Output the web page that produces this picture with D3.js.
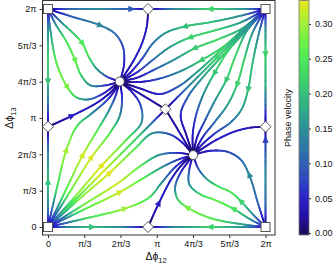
<!DOCTYPE html>
<html>
<head>
<meta charset="utf-8">
<script src="https://cdn.jsdelivr.net/npm/d3@7"></script>
<style>
  body { margin: 0; background: #fff; }
  text { font-family: "Liberation Sans", Arial, sans-serif; fill: #111; }
</style>
</head>
<body>
<svg id="chart" width="334" height="272"></svg>
<script>
// all coordinates are in units of pi: [dphi12, dphi13, phase velocity]
const unstableNodes = [[0, 0], [2, 0], [0, 2], [2, 2]];
const stableNodes = [[0.66, 1.335], [1.335, 0.66]];
const saddles = [[0.92, 2], [0.92, 0], [0, 0.92], [2, 0.92], [1.08, 1.08]];

const tickValues = [0, 1 / 3, 2 / 3, 1, 4 / 3, 5 / 3, 2];
const tickLabels = ['0', 'π/3', '2π/3', 'π', '4π/3', '5π/3', '2π'];
const cbarTicks = [0, 0.05, 0.10, 0.15, 0.20, 0.25, 0.30];

// borders of the square (separatrices)
const edgeLines = [
  [[0, 2, 0], [0.2, 2, 0.1], [0.46, 2, 0.15], [0.77, 2, 0.09], [0.92, 2, 0]],
  [[2, 2, 0], [1.8, 2, 0.15], [1.49, 2, 0.22], [1.15, 2, 0.14], [0.92, 2, 0]],
  [[0, 2, 0], [0, 1.8, 0.15], [0, 1.52, 0.22], [0, 1.33, 0.2], [0, 1.1, 0.1], [0, 0.92, 0]],
  [[0, 0, 0], [0, 0.2, 0.14], [0, 0.42, 0.2], [0, 0.7, 0.13], [0, 0.92, 0]],
  [[0, 0, 0], [0.2, 0, 0.14], [0.41, 0, 0.2], [0.7, 0, 0.13], [0.92, 0, 0]],
  [[2, 0, 0], [1.8, 0, 0.15], [1.49, 0, 0.22], [1.15, 0, 0.14], [0.92, 0, 0]],
  [[2, 2, 0], [2, 1.8, 0.15], [2, 1.58, 0.22], [2, 1.3, 0.18], [2, 1.1, 0.1], [2, 0.92, 0]],
  [[2, 0, 0], [2, 0.2, 0.1], [2, 0.46, 0.15], [2, 0.8, 0.07], [2, 0.92, 0]]
];
const edgeArrows = [3, 2, 3, 2, 2, 2, 2, 3];

// lines leaving the saddles + the diagonal
const saddleLines = [
  [[0, 0.92, 0], [0.22, 1.02, 0.045], [0.45, 1.14, 0.045], [0.58, 1.24, 0.025], [0.66, 1.335, 0]],
  [[0.92, 0, 0], [1.02, 0.22, 0.045], [1.14, 0.45, 0.045], [1.24, 0.58, 0.025], [1.335, 0.66, 0]],
  [[0.92, 2, 0], [0.91, 1.85, 0.04], [0.87, 1.7, 0.05], [0.8, 1.55, 0.045], [0.72, 1.42, 0.03], [0.66, 1.335, 0]],
  [[2, 0.92, 0], [1.85, 0.91, 0.04], [1.7, 0.87, 0.05], [1.55, 0.8, 0.045], [1.42, 0.72, 0.03], [1.335, 0.66, 0]],
  [[1.08, 1.08, 0], [0.95, 1.16, 0.03], [0.8, 1.25, 0.03], [0.66, 1.335, 0]],
  [[1.08, 1.08, 0], [1.16, 0.95, 0.03], [1.25, 0.8, 0.03], [1.335, 0.66, 0]],
  [[2, 2, 0], [1.85, 1.85, 0.15], [1.55, 1.55, 0.22], [1.3, 1.3, 0.14], [1.08, 1.08, 0]],
  [[0, 0, 0], [0.15, 0.15, 0.22], [0.5, 0.5, 0.33], [0.85, 0.85, 0.21], [1.08, 1.08, 0]]
];
const saddleArrows = [1, 1, -1, -1, -1, -1, 2, -1];

// fan from the top-left corner into the upper node
const flowsA = [
  [[0, 2, 0], [0.22, 1.93, 0.1], [0.48, 1.85, 0.14], [0.62, 1.77, 0.11], [0.69, 1.65, 0.08], [0.7, 1.5, 0.05], [0.68, 1.4, 0.03], [0.66, 1.335, 0]],
  [[0, 2, 0], [0.12, 1.88, 0.15], [0.24, 1.77, 0.22], [0.32, 1.68, 0.25], [0.37, 1.57, 0.24], [0.44, 1.46, 0.17], [0.54, 1.38, 0.09], [0.66, 1.335, 0]],
  [[0, 2, 0], [0.07, 1.86, 0.15], [0.17, 1.7, 0.24], [0.25, 1.53, 0.27], [0.3, 1.4, 0.23], [0.39, 1.3, 0.15], [0.53, 1.3, 0.07], [0.66, 1.335, 0]],
  [[0, 2, 0], [0.02, 1.82, 0.15], [0.08, 1.5, 0.26], [0.18, 1.28, 0.28], [0.26, 1.19, 0.22], [0.37, 1.17, 0.13], [0.5, 1.22, 0.06], [0.6, 1.29, 0.03], [0.66, 1.335, 0]]
];
const arrowsA = [2, 3, 3, 3];

// fan from the bottom-right corner into the lower node
const flowsD = [
  [[2, 0, 0], [1.93, 0.22, 0.1], [1.85, 0.48, 0.14], [1.77, 0.62, 0.11], [1.65, 0.69, 0.08], [1.5, 0.7, 0.05], [1.4, 0.68, 0.03], [1.335, 0.66, 0]],
  [[2, 0, 0], [1.88, 0.12, 0.15], [1.77, 0.24, 0.22], [1.68, 0.32, 0.25], [1.57, 0.37, 0.24], [1.46, 0.44, 0.17], [1.38, 0.54, 0.09], [1.335, 0.66, 0]],
  [[2, 0, 0], [1.86, 0.07, 0.15], [1.7, 0.17, 0.24], [1.53, 0.25, 0.27], [1.4, 0.3, 0.23], [1.3, 0.39, 0.15], [1.3, 0.53, 0.07], [1.335, 0.66, 0]],
  [[2, 0, 0], [1.82, 0.02, 0.15], [1.5, 0.08, 0.26], [1.28, 0.18, 0.28], [1.19, 0.26, 0.22], [1.17, 0.37, 0.13], [1.22, 0.5, 0.06], [1.29, 0.6, 0.03], [1.335, 0.66, 0]]
];
const arrowsD = [2, 2, 2, 3];

// fan from the top-right corner, above and below the diagonal
const flowsBP = [
  [[2, 2, 0], [1.78, 1.94, 0.14], [1.5, 1.88, 0.2], [1.26, 1.84, 0.2], [1.08, 1.78, 0.16], [0.96, 1.68, 0.12], [0.87, 1.55, 0.08], [0.76, 1.42, 0.04], [0.66, 1.335, 0]],
  [[2, 2, 0], [1.78, 1.88, 0.16], [1.52, 1.8, 0.22], [1.31, 1.74, 0.22], [1.12, 1.65, 0.17], [0.96, 1.53, 0.11], [0.82, 1.42, 0.06], [0.66, 1.335, 0]],
  [[2, 2, 0], [1.8, 1.83, 0.17], [1.56, 1.72, 0.23], [1.35, 1.64, 0.21], [1.15, 1.53, 0.15], [0.97, 1.44, 0.09], [0.82, 1.37, 0.04], [0.66, 1.335, 0]],
  [[2, 2, 0], [1.82, 1.84, 0.16], [1.62, 1.66, 0.23], [1.41, 1.53, 0.21], [1.22, 1.43, 0.15], [1.02, 1.36, 0.08], [0.84, 1.33, 0.04], [0.66, 1.335, 0]],
  [[2, 2, 0], [1.85, 1.855, 0.15], [1.6, 1.63, 0.22], [1.38, 1.43, 0.17], [1.2, 1.29, 0.1], [1.03, 1.22, 0.05], [0.85, 1.27, 0.03], [0.66, 1.335, 0]]
];
const arrowsBP = [3, 3, 3, 3, -1];

const flowsBQ = [
  [[2, 2, 0], [1.94, 1.78, 0.14], [1.88, 1.5, 0.2], [1.84, 1.26, 0.2], [1.78, 1.08, 0.16], [1.68, 0.96, 0.12], [1.55, 0.87, 0.08], [1.42, 0.76, 0.04], [1.335, 0.66, 0]],
  [[2, 2, 0], [1.88, 1.78, 0.16], [1.8, 1.52, 0.22], [1.74, 1.31, 0.22], [1.65, 1.12, 0.17], [1.53, 0.96, 0.11], [1.42, 0.82, 0.06], [1.335, 0.66, 0]],
  [[2, 2, 0], [1.83, 1.8, 0.17], [1.72, 1.56, 0.23], [1.64, 1.35, 0.21], [1.53, 1.15, 0.15], [1.44, 0.97, 0.09], [1.37, 0.82, 0.04], [1.335, 0.66, 0]],
  [[2, 2, 0], [1.84, 1.82, 0.16], [1.66, 1.62, 0.23], [1.53, 1.41, 0.21], [1.43, 1.22, 0.15], [1.36, 1.02, 0.08], [1.33, 0.84, 0.04], [1.335, 0.66, 0]],
  [[2, 2, 0], [1.855, 1.85, 0.15], [1.63, 1.6, 0.22], [1.43, 1.38, 0.17], [1.29, 1.2, 0.1], [1.22, 1.03, 0.05], [1.27, 0.85, 0.03], [1.335, 0.66, 0]]
];
const arrowsBQ = [3, 3, 3, 3, -1];

// fan from the bottom-left corner
const flowsCP = [
  [[0, 0, 0], [0.08, 0.35, 0.23], [0.17, 0.71, 0.3], [0.27, 0.93, 0.25], [0.4, 1.04, 0.15], [0.54, 1.16, 0.07], [0.62, 1.26, 0.03], [0.66, 1.335, 0]],
  [[0, 0, 0], [0.15, 0.31, 0.25], [0.32, 0.66, 0.32], [0.45, 0.88, 0.26], [0.55, 1.05, 0.16], [0.62, 1.2, 0.07], [0.66, 1.335, 0]],
  [[0, 0, 0], [0.2, 0.32, 0.27], [0.4, 0.64, 0.325], [0.56, 0.85, 0.26], [0.66, 1.02, 0.15], [0.68, 1.19, 0.06], [0.66, 1.335, 0]],
  [[0, 0, 0], [0.25, 0.28, 0.28], [0.5, 0.57, 0.33], [0.72, 0.8, 0.26], [0.86, 0.96, 0.15], [0.85, 1.12, 0.08], [0.77, 1.24, 0.04], [0.66, 1.335, 0]]
];
const arrowsCP = [2, 2, 2, 2];

const flowsCQ = [
  [[0, 0, 0], [0.35, 0.08, 0.23], [0.71, 0.17, 0.3], [0.93, 0.27, 0.25], [1.04, 0.4, 0.15], [1.16, 0.54, 0.07], [1.26, 0.62, 0.03], [1.335, 0.66, 0]],
  [[0, 0, 0], [0.31, 0.15, 0.25], [0.66, 0.32, 0.32], [0.88, 0.45, 0.26], [1.05, 0.55, 0.16], [1.2, 0.62, 0.07], [1.335, 0.66, 0]],
  [[0, 0, 0], [0.32, 0.2, 0.27], [0.64, 0.4, 0.325], [0.85, 0.56, 0.26], [1.02, 0.66, 0.15], [1.19, 0.68, 0.06], [1.335, 0.66, 0]],
  [[0, 0, 0], [0.28, 0.25, 0.28], [0.57, 0.5, 0.33], [0.8, 0.72, 0.26], [0.96, 0.86, 0.15], [1.12, 0.85, 0.08], [1.24, 0.77, 0.04], [1.335, 0.66, 0]]
];
const arrowsCQ = [2, 2, -1, 2];

// colour map
const cmap = [
  [0.000, '#1b0b5a'], [0.025, '#2410a8'], [0.050, '#2c22c8'], [0.075, '#2f45c0'],
  [0.100, '#2f62b4'], [0.125, '#2e7aa6'], [0.150, '#2c9198'], [0.175, '#2fa98a'],
  [0.200, '#36c07a'], [0.225, '#40d668'], [0.250, '#4de958'], [0.275, '#6ef046'],
  [0.300, '#a0f03a'], [0.335, '#ede61c']
];

const svg = d3.select('#chart');
const x = d3.scaleLinear().domain([0, 2]).range([48, 265.5]);
const y = d3.scaleLinear().domain([0, 2]).range([227, 9]);
const frame = { left: 42.5, right: 275, top: 0.5, bottom: 235 };

const color = d3.scaleLinear()
  .domain(cmap.map(d => d[0]))
  .range(cmap.map(d => d[1]))
  .clamp(true);

const plot = svg.append('g');
const scratch = svg.append('path').attr('fill', 'none').attr('stroke', 'none');
const lineGen = d3.line()
  .x(d => x(d[0]))
  .y(d => y(d[1]))
  .curve(d3.curveCatmullRom.alpha(0.5));

function drawStream(pts, arrowIdx) {
  scratch.attr('d', lineGen(pts));
  const node = scratch.node();
  const total = node.getTotalLength();
  const n = Math.max(2, Math.ceil(total / 1.2));
  const samples = d3.range(n + 1).map(i => node.getPointAtLength(total * i / n));

  // where each control point sits along the curve
  const ctrl = [];
  let start = 0;
  pts.forEach((p, k) => {
    const px = x(p[0]), py = y(p[1]);
    let best = start, bd = Infinity;
    for (let i = start; i <= n; i++) {
      const d = (samples[i].x - px) ** 2 + (samples[i].y - py) ** 2;
      if (d < bd) { bd = d; best = i; }
    }
    if (k > 0 && best <= ctrl[k - 1]) best = ctrl[k - 1] + 1;
    ctrl.push(best);
    start = best;
  });
  ctrl[0] = 0;
  ctrl[ctrl.length - 1] = Math.max(n, ctrl[ctrl.length - 2] + 1);
  const vAt = d3.scaleLinear().domain(ctrl).range(pts.map(p => p[2])).clamp(true);

  for (let i = 0; i < n; i++) {
    plot.append('line')
      .attr('x1', samples[i].x).attr('y1', samples[i].y)
      .attr('x2', samples[i + 1].x).attr('y2', samples[i + 1].y)
      .attr('stroke', color(vAt(i + 0.5)))
      .attr('stroke-width', 1.8)
      .attr('stroke-linecap', 'round');
  }

  if (arrowIdx >= 0) {
    const j = Math.min(ctrl[arrowIdx], n);
    const a = samples[Math.max(0, j - 2)], b = samples[Math.min(n, j + 2)];
    const ang = Math.atan2(b.y - a.y, b.x - a.x) * 180 / Math.PI;
    plot.append('path')
      .attr('d', 'M4,0L-3,-3.2L-3,3.2Z')
      .attr('transform', `translate(${samples[j].x},${samples[j].y}) rotate(${ang})`)
      .attr('fill', color(vAt(j)));
  }
}

[[edgeLines, edgeArrows], [flowsA, arrowsA], [flowsD, arrowsD],
 [flowsBP, arrowsBP], [flowsBQ, arrowsBQ], [flowsCP, arrowsCP], [flowsCQ, arrowsCQ],
 [saddleLines, saddleArrows]]
  .forEach(([lines, arrows]) => lines.forEach((l, i) => drawStream(l, arrows[i])));
scratch.remove();

// frame and axes
svg.append('rect')
  .attr('x', frame.left).attr('y', frame.top)
  .attr('width', frame.right - frame.left).attr('height', frame.bottom - frame.top)
  .attr('fill', 'none').attr('stroke', '#333').attr('stroke-width', 1);

const xAxis = svg.append('g')
  .attr('transform', `translate(0,${frame.bottom})`)
  .call(d3.axisBottom(x).tickValues(tickValues).tickFormat((d, i) => tickLabels[i]).tickSize(3).tickPadding(3));
const yAxis = svg.append('g')
  .attr('transform', `translate(${frame.left},0)`)
  .call(d3.axisLeft(y).tickValues(tickValues).tickFormat((d, i) => tickLabels[i]).tickSize(3).tickPadding(3));
[xAxis, yAxis].forEach(a => {
  a.select('.domain').remove();
  a.selectAll('line').attr('stroke', '#333');
  a.selectAll('text').attr('font-size', 9).attr('fill', '#111')
    .attr('font-family', '"Liberation Sans", Arial, sans-serif');
});

const xTitle = svg.append('text')
  .attr('x', 156).attr('y', 260)
  .attr('text-anchor', 'middle').attr('font-size', 10.5);
xTitle.append('tspan').text('Δϕ');
xTitle.append('tspan').attr('dy', 2.5).attr('font-size', 7.5).text('12');

const yTitle = svg.append('text')
  .attr('transform', 'translate(13,118) rotate(-90)')
  .attr('text-anchor', 'middle').attr('font-size', 10.5);
yTitle.append('tspan').text('Δϕ');
yTitle.append('tspan').attr('dy', 2.5).attr('font-size', 7.5).text('13');

// fixed points
const marks = svg.append('g').attr('fill', '#fff').attr('stroke', '#555').attr('stroke-width', 1);
marks.selectAll('rect').data(unstableNodes).join('rect')
  .attr('x', d => x(d[0]) - 4.5).attr('y', d => y(d[1]) - 4.5)
  .attr('width', 9).attr('height', 9);
marks.selectAll('circle').data(stableNodes).join('circle')
  .attr('cx', d => x(d[0])).attr('cy', d => y(d[1])).attr('r', 4.5);
marks.selectAll('path').data(saddles).join('path')
  .attr('d', 'M0,-5.5L5.5,0L0,5.5L-5.5,0Z')
  .attr('transform', d => `translate(${x(d[0])},${y(d[1])})`);

// colour bar
const cb = d3.scaleLinear().domain([0, 0.3]).range([233, 24]);
const cbBox = { left: 299, width: 10, top: 0.5, bottom: 235 };
const grad = svg.append('defs').append('linearGradient')
  .attr('id', 'cbGrad').attr('x1', 0).attr('y1', 1).attr('x2', 0).attr('y2', 0);
const vLow = cb.invert(cbBox.bottom), vHigh = cb.invert(cbBox.top);
d3.range(0, 41).forEach(i => {
  const v = vLow + (vHigh - vLow) * i / 40;
  grad.append('stop').attr('offset', i / 40).attr('stop-color', color(v));
});
svg.append('rect')
  .attr('x', cbBox.left).attr('y', cbBox.top)
  .attr('width', cbBox.width).attr('height', cbBox.bottom - cbBox.top)
  .attr('fill', 'url(#cbGrad)').attr('stroke', '#777').attr('stroke-width', 0.8);
const cbAxis = svg.append('g')
  .attr('transform', `translate(${cbBox.left + cbBox.width},0)`)
  .call(d3.axisRight(cb).tickValues(cbarTicks).tickFormat(d3.format('.2f')).tickSize(2).tickPadding(4));
cbAxis.select('.domain').remove();
cbAxis.selectAll('line').attr('stroke', '#333');
cbAxis.selectAll('text').attr('font-size', 9).attr('fill', '#111')
  .attr('font-family', '"Liberation Sans", Arial, sans-serif');

svg.append('text')
  .attr('transform', 'translate(291,118) rotate(-90)')
  .attr('text-anchor', 'middle').attr('font-size', 9)
  .text('Phase velocity');
</script>
</body>
</html>
